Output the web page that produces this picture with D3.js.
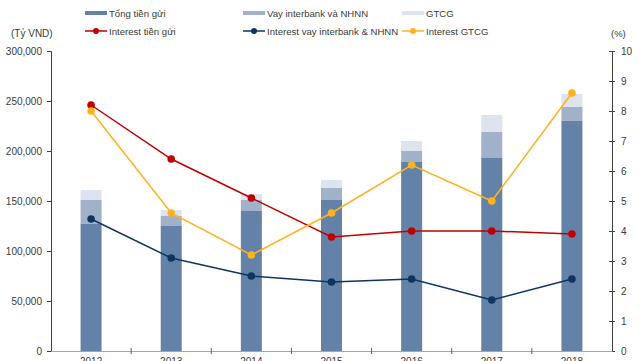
<!DOCTYPE html>
<html>
<head>
<meta charset="utf-8">
<script src="https://cdn.jsdelivr.net/npm/d3@7/dist/d3.min.js"></script>
<style>
  html, body { margin: 0; padding: 0; background: #fff; }
  svg { display: block; font-family: "Liberation Sans", Arial, sans-serif; }
</style>
</head>
<body>
<svg id="chart" width="644" height="361"></svg>
<script>
// Years on the x axis
const years = ["2012", "2013", "2014", "2015", "2016", "2017", "2018"];

// Stacked bar series (Tỷ VND)
const tongTienGui = [127000, 125000, 140000, 151000, 189000, 193000, 230000];
const vayInterbank = [24000, 10000, 11000, 12000, 11000, 26000, 14000];
const gtcg = [10000, 6000, 6000, 8000, 10000, 17000, 13000];

// Interest rate series (%)
const interestTienGui = [8.2, 6.4, 5.1, 3.8, 4.0, 4.0, 3.9];
const interestVay = [4.4, 3.1, 2.5, 2.3, 2.4, 1.7, 2.4];
const interestGTCG = [8.0, 4.6, 3.2, 4.6, 6.2, 5.0, 8.6];

// Axis tick values
const leftTicks = [0, 50000, 100000, 150000, 200000, 250000, 300000];
const rightTicks = [0, 1, 2, 3, 4, 5, 6, 7, 8, 9, 10];

const barSeries = [
  { name: "Tổng tiền gửi", values: tongTienGui, color: "#6482a8" },
  { name: "Vay interbank và NHNN", values: vayInterbank, color: "#a2b1ca" },
  { name: "GTCG", values: gtcg, color: "#dde4ee" }
];
const lineSeries = [
  { name: "Interest tiền gửi", values: interestTienGui, color: "#c00000" },
  { name: "Interest vay interbank & NHNN", values: interestVay, color: "#0f355f" },
  { name: "Interest GTCG", values: interestGTCG, color: "#ffb21f" }
];

const svg = d3.select("#chart");
const plotLeft = 51, plotRight = 612, plotTop = 51, plotBottom = 351;
const textColor = "#3a3a3a";
const fs = "10px";
const legendFs = "9.6px";

const x = d3.scaleBand().domain(years).range([plotLeft, plotRight]).paddingInner(0).paddingOuter(0);
const yL = d3.scaleLinear().domain([0, 300000]).range([plotBottom, plotTop]);
const yR = d3.scaleLinear().domain([0, 10]).range([plotBottom, plotTop]);
const barW = 21;

// Stacked bars
const stackData = years.map((yr, i) => {
  const o = { year: yr };
  barSeries.forEach(s => { o[s.name] = s.values[i]; });
  return o;
});
const stacked = d3.stack().keys(barSeries.map(s => s.name))(stackData);
stacked.forEach((layer, li) => {
  svg.append("g").selectAll("rect").data(layer).join("rect")
    .attr("x", d => x(d.data.year) + x.bandwidth() / 2 - barW / 2)
    .attr("width", barW)
    .attr("y", d => yL(d[1]))
    .attr("height", d => yL(d[0]) - yL(d[1]))
    .attr("fill", barSeries[li].color);
});

// Left axis
const axL = d3.axisLeft(yL).tickValues(leftTicks).tickSize(4).tickPadding(5)
  .tickFormat(d3.format(","));
const gL = svg.append("g").attr("transform", `translate(${plotLeft},0)`).call(axL);
gL.select(".domain").attr("stroke", "#404040");
gL.selectAll(".tick line").attr("stroke", "#404040");
gL.selectAll("text").attr("fill", textColor).style("font-size", fs)
  .style("font-family", "Liberation Sans, Arial, sans-serif");

// Right axis with ticks crossing the line
const axR = d3.axisRight(yR).tickValues(rightTicks).tickSize(3).tickPadding(6);
const gR = svg.append("g").attr("transform", `translate(${plotRight},0)`).call(axR);
gR.select(".domain").attr("stroke", "#404040");
gR.selectAll(".tick line").attr("stroke", "#404040").attr("x1", -3);
gR.selectAll("text").attr("fill", textColor).style("font-size", fs)
  .style("font-family", "Liberation Sans, Arial, sans-serif");

// Bottom baseline with separators between years
const xAxis = d3.axisBottom(x).tickSize(0).tickPadding(7);
const gX = svg.append("g").attr("transform", `translate(0,${plotBottom})`).call(xAxis);
gX.select(".domain").attr("stroke", "#a6a6a6");
gX.selectAll("text").attr("fill", textColor).style("font-size", fs)
  .style("font-family", "Liberation Sans, Arial, sans-serif");
svg.append("g").selectAll("line").data(years.slice(1)).join("line")
  .attr("x1", d => x(d)).attr("x2", d => x(d))
  .attr("y1", plotBottom - 3).attr("y2", plotBottom + 3)
  .attr("stroke", "#606060");

// Interest lines
const line = d3.line().x((d, i) => x(years[i]) + x.bandwidth() / 2).y(d => yR(d));
lineSeries.forEach(s => {
  svg.append("path").datum(s.values).attr("d", line)
    .attr("fill", "none").attr("stroke", s.color).attr("stroke-width", 1.5);
  svg.append("g").selectAll("circle").data(s.values).join("circle")
    .attr("cx", (d, i) => x(years[i]) + x.bandwidth() / 2)
    .attr("cy", d => yR(d)).attr("r", 3.8).attr("fill", s.color);
});

// Axis unit labels
svg.append("text").attr("x", 11).attr("y", 37).text("(Tỷ VND)")
  .attr("fill", textColor).style("font-size", fs);
svg.append("text").attr("x", 611).attr("y", 37).text("(%)")
  .attr("fill", textColor).style("font-size", "9.5px");

// Legend
const legCols = [85, 243, 402];
barSeries.forEach((s, i) => {
  const g = svg.append("g").attr("transform", `translate(${legCols[i]},13)`);
  g.append("rect").attr("x", 0).attr("y", -2).attr("width", 22).attr("height", 4).attr("fill", s.color);
  g.append("text").attr("x", 24).attr("y", 4).text(s.name)
    .attr("fill", textColor).style("font-size", legendFs);
});
lineSeries.forEach((s, i) => {
  const g = svg.append("g").attr("transform", `translate(${legCols[i]},31)`);
  g.append("line").attr("x1", 0).attr("x2", 22).attr("y1", 0).attr("y2", 0)
    .attr("stroke", s.color).attr("stroke-width", 1.5);
  g.append("circle").attr("cx", 11).attr("cy", 0).attr("r", 3).attr("fill", s.color);
  g.append("text").attr("x", 24).attr("y", 4).text(s.name)
    .attr("fill", textColor).style("font-size", legendFs);
});
</script>
</body>
</html>
